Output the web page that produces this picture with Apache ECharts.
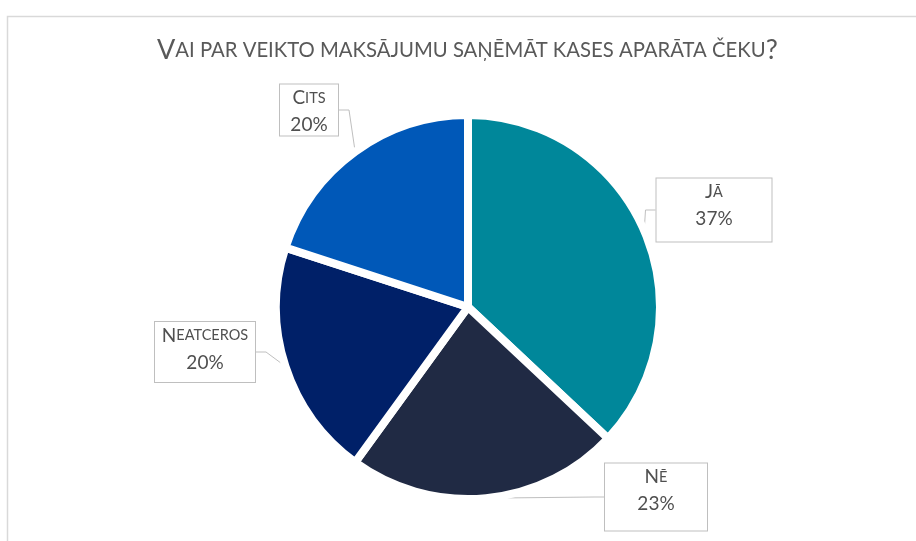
<!DOCTYPE html>
<html>
<head>
<meta charset="utf-8">
<script src="https://cdn.jsdelivr.net/npm/echarts@6/dist/echarts.min.js"></script>
<style>
html,body{margin:0;padding:0;background:#fff;}
#chart{width:916px;height:541px;}
</style>
</head>
<body>
<div id="chart"></div>
<script>
// ---- data ----
const titleText = 'Vai par veikto maksājumu saņēmāt kases aparāta čeku?';
const categories = ['Jā', 'Nē', 'Neatceros', 'Cits'];
const values = [37, 23, 20, 20];
const colors = ['#00879A', '#202A44', '#002068', '#0058B8'];

// label box placement (styling)
const labelPos = [[714, 210], [656, 497], [205, 352], [309, 110]];
const labelBox = [[115, 63], [102, 67], [100, 60], [58, 51]];

function smallCapsRuns(s, big, small) {
  let out = '{' + big + '|' + s[0].toUpperCase() + '}';
  let rest = s.slice(1);
  let q = '';
  if (rest.endsWith('?')) { q = '{' + big + '|?}'; rest = rest.slice(0, -1); }
  out += '{' + small + '|' + rest.toUpperCase() + '}' + q;
  return out;
}

const data = categories.map((c, i) => ({
  name: c,
  value: values[i],
  itemStyle: { color: colors[i] },
  label: { width: labelBox[i][0], height: labelBox[i][1] }
}));

const chart = echarts.init(document.getElementById('chart'), null, { renderer: 'canvas' });
chart.setOption({
  animation: false,
  backgroundColor: '#fff',
  graphic: [{
    type: 'rect', left: 5, top: 14, silent: true,
    shape: { width: 960, height: 600 },
    style: { fill: 'none', stroke: '#D9D9D9', lineWidth: 1.5 }
  }],
  title: {
    text: smallCapsRuns(titleText, 'b', 's'),
    left: 152,
    top: 32,
    textStyle: {
      fontWeight: 'normal',
      rich: {
        b: { fontFamily: 'Lato', fontSize: 27, fontWeight: 'normal', color: '#595959' },
        s: { fontFamily: 'Lato', fontSize: 20.3, fontWeight: 'normal', color: '#595959' }
      }
    }
  },
  series: [{
    type: 'pie',
    center: [468, 307],
    radius: 192,
    startAngle: 90,
    clockwise: true,
    data: data,
    itemStyle: { borderColor: '#fff', borderWidth: 8 },
    label: {
      show: true,
      position: 'outside',
      backgroundColor: '#fff',
      borderColor: '#BFBFBF',
      borderWidth: 1,
      align: 'center',
      verticalAlign: 'middle',
      lineHeight: 27,
      formatter: function (p) {
        return smallCapsRuns(p.name, 'b', 's') + '\n{p|' + p.value + '%}';
      },
      rich: {
        b: { fontFamily: 'Lato', fontSize: 19, color: '#505050', lineHeight: 27 },
        s: { fontFamily: 'Lato', fontSize: 14.5, color: '#505050', lineHeight: 27 },
        p: { fontFamily: 'Lato', fontSize: 19, color: '#505050', lineHeight: 27 }
      }
    },
    labelLine: {
      show: true,
      length: 10,
      length2: 10,
      lineStyle: { color: '#BFBFBF', width: 1 }
    },
    labelLayout: function (params) {
      const i = params.dataIndex;
      return { x: labelPos[i][0], y: labelPos[i][1], align: 'center', verticalAlign: 'middle' };
    }
  }]
});
</script>
</body>
</html>
